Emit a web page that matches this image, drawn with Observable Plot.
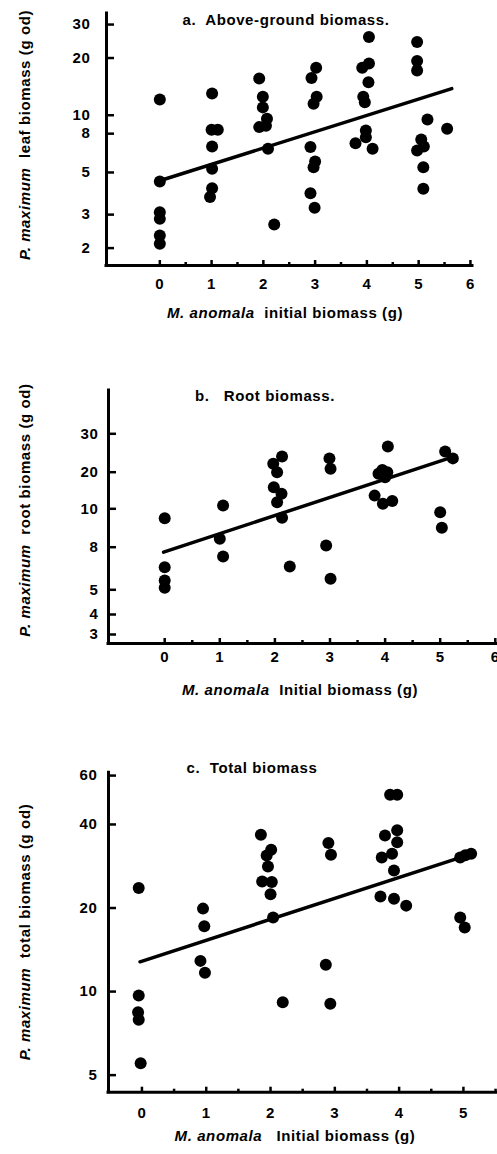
<!DOCTYPE html>
<html><head><meta charset="utf-8">
<script src="https://cdn.jsdelivr.net/npm/d3@7"></script>
<script src="https://cdn.jsdelivr.net/npm/@observablehq/plot@0.6"></script>
<style>
body{margin:0;background:#fff;}
#wrap{position:relative;width:497px;height:1154px;overflow:hidden;background:#fff;}
#wrap svg{position:absolute;left:0;}
</style></head><body><div id="wrap"></div>
<script>
const FONT = "'Liberation Sans', Arial, Helvetica, sans-serif";

// ---- Panel a: above-ground (leaf) biomass ----
const aTitle = "a.  Above-ground biomass.";
const aYLabel = ["P. maximum", "  leaf biomass (g od)"];
const aXLabel = ["M. anomala", "  initial biomass (g)"];
const aYTicks = [2, 3, 5, 8, 10, 20, 30];
const aXTicks = [0, 1, 2, 3, 4, 5, 6];
const aXMinor = [0.5, 1.5, 2.5, 3.5, 4.5, 5.5];
const aX = [0,0,0,0,0,0, 1.01,1.0,1.12,1.01,1.01,1.01,0.97, 1.92,1.99,1.99,2.07,1.92,2.05,2.09,2.21,
  3.02,2.93,3.03,2.97,2.91,3.0,2.97,2.91,2.99, 4.04,4.04,3.91,4.03,3.93,3.96,3.98,3.98,3.78,4.11,
  4.97,4.97,4.97,5.17,5.05,5.1,4.97,5.09,5.09,5.55];
const aY = [12.1,4.48,3.09,2.85,2.33,2.11, 13.0,8.39,8.39,6.85,5.23,4.13,3.71, 15.6,12.5,11.0,9.59,8.66,8.8,6.66,2.66,
  17.8,15.7,12.5,11.5,6.8,5.71,5.33,3.89,3.26, 25.8,18.7,17.8,14.9,12.5,11.7,8.32,7.67,7.13,6.66,
  24.3,19.3,17.2,9.5,7.45,6.85,6.53,5.33,4.1,8.49];
const aFitX = [-0.05, 5.64];
const aFitY = [4.48, 13.8];

// ---- Panel b: root biomass ----
const bTitle = "b.   Root biomass.";
const bYLabel = ["P. maximum", "  root biomass (g od)"];
const bXLabel = ["M. anomala", "  Initial biomass (g)"];
const bYTicks = [3, 4, 5, 8, 10, 20, 30];
const bXTicks = [0, 1, 2, 3, 4, 5, 6];
const bXMinor = [0.5, 1.5, 2.5, 3.5, 4.5, 5.5];
const bX = [0,0,0,0, 1.0,1.06,1.06, 1.97,2.13,2.04,1.98,2.12,2.04,2.13,2.27, 2.99,3.01,2.93,3.01,
  4.05,3.95,4.04,3.88,4.0,3.81,3.96,4.13, 5.09,5.23,5.0,5.03];
const bY = [9.51,6.59,5.65,5.14, 8.44,10.9,7.35, 22.2,24.1,20,15.9,14.1,11.8,9.53,6.64, 23.6,20.9,8.09,5.77,
  26.7,20.6,20,19.6,18.6,13.6,11.4,12.1, 25.4,23.6,9.82,9.01];
const bFitX = [-0.02, 5.15];
const bFitY = [7.65, 23.6];

// ---- Panel c: total biomass ----
const cTitle = "c.  Total biomass";
const cYLabel = ["P. maximum", "  total biomass (g od)"];
const cXLabel = ["M. anomala", "   Initial biomass (g)"];
const cYTicks = [5, 10, 20, 40, 60];
const cXTicks = [0, 1, 2, 3, 4, 5];
const cXMinor = [0.5, 1.5, 2.5, 3.5, 4.5, 5.5];
const cX = [-0.05,-0.05,-0.06,-0.05,-0.02, 0.95,0.97,0.91,0.98,
  1.85,2.01,1.94,1.96,1.87,2.02,2.0,2.04,2.19, 2.9,2.94,2.86,2.93,
  3.86,3.97,3.78,3.97,3.97,3.89,3.73,3.92,3.71,3.92,4.11, 4.95,5.12,5.03,4.95,5.02];
const cY = [23.6,9.68,8.43,7.91,5.52, 19.9,17.2,12.9,11.7,
  36.7,32.4,30.9,28.2,24.9,24.8,22.4,18.5,9.16, 34.3,31.1,12.5,9.04,
  51.2,51.2,36.5,38.1,34.5,31.4,30.4,27.3,22.0,21.6,20.4, 30.4,31.4,31.0,18.5,17.0];
const cFitX = [-0.03, 5.08];
const cFitY = [12.8, 31.1];

function panel(cfg) {
  const pts = cfg.xs.map((x, i) => ({x, y: cfg.ys[i]}));
  const fit = cfg.fx.map((x, i) => ({x, y: cfg.fy[i]}));
  const svg = Plot.plot({
    width: 497, height: cfg.height,
    marginLeft: cfg.mL, marginRight: cfg.mR, marginTop: cfg.mT, marginBottom: cfg.mB,
    style: {fontFamily: FONT, fontSize: "15px", fontWeight: "bold", letterSpacing: "0.6px", background: "white", color: "black"},
    x: {domain: cfg.xDomain, label: null},
    y: Object.assign({label: null}, cfg.y),
    marks: [
      Plot.axisY({ticks: cfg.yTicks, anchor: "left", tickSize: -8, strokeWidth: 2.5, fill: "none", label: null}),
      Plot.axisY({ticks: cfg.yTicks, anchor: "left", tickSize: 0, tickPadding: cfg.yPad, tickFormat: d => String(d), label: null}),
      Plot.axisX({ticks: cfg.xTicks, anchor: "bottom", tickSize: -5, strokeWidth: 2.5, fill: "none", label: null}),
      Plot.axisX({ticks: cfg.xMinor, anchor: "bottom", tickSize: -3, strokeWidth: 2.5, fill: "none", label: null}),
      Plot.axisX({ticks: cfg.xTicks, anchor: "bottom", tickSize: 0, tickPadding: cfg.xPad, tickFormat: d => String(d), label: null}),
      Plot.ruleX([cfg.xDomain[0]], {strokeWidth: 3, strokeLinecap: "square"}),
      Plot.ruleY([cfg.y.domain[0]], {strokeWidth: 3, strokeLinecap: "square"}),
      Plot.line(fit, {x: "x", y: "y", strokeWidth: 3.5, stroke: "black"}),
      Plot.dot(pts, {x: "x", y: "y", r: 6, fill: "black"})
    ]
  });
  svg.style.top = cfg.top + "px";
  const s = d3.select(svg);
  s.append("text").attr("x", cfg.title[1]).attr("y", cfg.title[2]).attr("text-anchor", "middle")
    .attr("xml:space", "preserve").style("white-space", "pre").text(cfg.title[0]);
  const yl = s.append("text").attr("transform", `translate(${cfg.ylab[1]},${cfg.ylab[2]}) rotate(-90)`)
    .attr("text-anchor", "middle").attr("xml:space", "preserve").style("white-space", "pre");
  yl.append("tspan").style("font-style", "italic").text(cfg.ylab[0][0]);
  yl.append("tspan").text(cfg.ylab[0][1]);
  const xl = s.append("text").attr("x", cfg.xlab[1]).attr("y", cfg.xlab[2])
    .attr("text-anchor", "middle").attr("xml:space", "preserve").style("white-space", "pre");
  xl.append("tspan").style("font-style", "italic").text(cfg.xlab[0][0]);
  xl.append("tspan").text(cfg.xlab[0][1]);
  document.getElementById("wrap").appendChild(svg);
}

panel({
  top: 0, height: 330, mL: 106, mR: 25, mT: 13, mB: 65,
  xDomain: [-1.03, 6.04],
  y: {type: "log", domain: [1.62, 34.3]},
  yTicks: aYTicks, xTicks: aXTicks, xMinor: aXMinor, yPad: 16, xPad: 13,
  xs: aX, ys: aY, fx: aFitX, fy: aFitY,
  title: [aTitle, 286, 25], ylab: [aYLabel, 30, 135], xlab: [aXLabel, 285, 318]
});

panel({
  top: 330, height: 410, mL: 108, mR: 0, mT: 60, mB: 97,
  xDomain: [-1.02, 6.04],
  y: {type: "linear", domain: [2.55, 3, 4, 5, 8, 10, 20, 30, 41.3],
      range: [313, 304, 284, 259.3, 216.7, 178.3, 141.7, 103.3, 60]},
  yTicks: bYTicks, xTicks: bXTicks, xMinor: bXMinor, yPad: 10, xPad: 8,
  xs: bX, ys: bY, fx: bFitX, fy: bFitY,
  title: [bTitle, 265, 71], ylab: [bYLabel, 30, 180], xlab: [bXLabel, 300, 365]
});

panel({
  top: 740, height: 414, mL: 108, mR: 0, mT: 32.3, mB: 62.3,
  xDomain: [-0.52, 5.53],
  y: {type: "log", domain: [4.34, 61.4]},
  yTicks: cYTicks, xTicks: cXTicks, xMinor: cXMinor, yPad: 11, xPad: 15,
  xs: cX, ys: cY, fx: cFitX, fy: cFitY,
  title: [cTitle, 252, 33], ylab: [cYLabel, 30, 192], xlab: [cXLabel, 295, 401]
});
</script></body></html>
